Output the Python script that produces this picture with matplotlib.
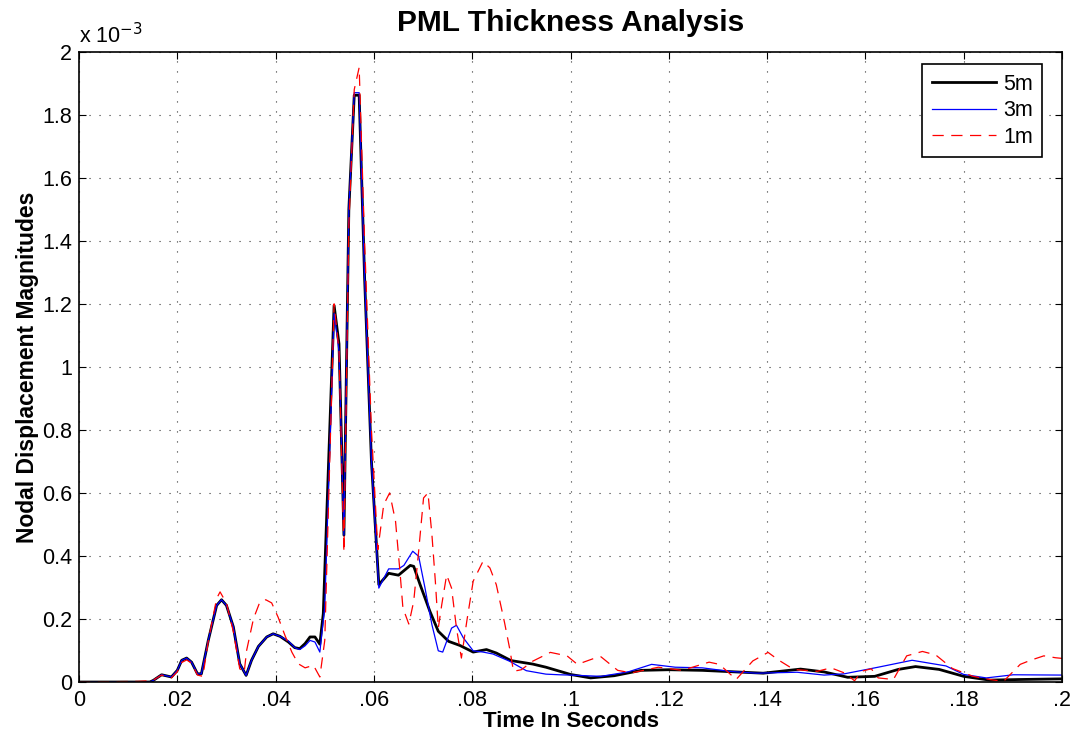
import numpy as np
import matplotlib
matplotlib.use('Agg')
import matplotlib.pyplot as plt

plt.rcParams['font.family'] = ['Liberation Sans', 'DejaVu Sans']

# time in seconds, displacement in units of 1e-3
t_5m = [0, 0.0144, 0.0151, 0.0168, 0.0188, 0.0200, 0.0209, 0.0219, 0.0229, 0.0241,
        0.0249, 0.0263, 0.0280, 0.0290, 0.0300, 0.0314, 0.0327, 0.0340, 0.0351, 0.0365,
        0.0382, 0.0395, 0.0409, 0.0426, 0.0439, 0.0449, 0.0460, 0.0470, 0.0480, 0.0490,
        0.0497, 0.0519, 0.0529, 0.0539, 0.0549, 0.0560, 0.0570, 0.0581, 0.0595, 0.0610,
        0.0630, 0.0650, 0.0674, 0.0681, 0.0694, 0.0714, 0.0731, 0.0752, 0.0775, 0.0802,
        0.0829, 0.0849, 0.0879, 0.0923, 0.0950, 0.1000, 0.1041, 0.1089, 0.1144, 0.1200,
        0.1268, 0.1351, 0.1392, 0.1468, 0.1516, 0.1564, 0.1619, 0.1667, 0.1702, 0.1750,
        0.1800, 0.1853, 0.1915, 0.2000]
d_5m = [0, 0, 0.005, 0.023, 0.016, 0.037, 0.069, 0.076, 0.063, 0.026,
        0.026, 0.132, 0.243, 0.261, 0.243, 0.175, 0.058, 0.021, 0.069, 0.113,
        0.143, 0.153, 0.145, 0.127, 0.109, 0.106, 0.122, 0.143, 0.143, 0.120,
        0.217, 1.195, 1.073, 0.466, 1.50, 1.862, 1.862, 1.285, 0.70, 0.309,
        0.345, 0.339, 0.370, 0.367, 0.309, 0.224, 0.161, 0.129, 0.116, 0.095,
        0.103, 0.092, 0.068, 0.057, 0.047, 0.024, 0.013, 0.020, 0.037, 0.039,
        0.037, 0.031, 0.028, 0.041, 0.032, 0.015, 0.018, 0.040, 0.049, 0.040,
        0.018, 0.006, 0.008, 0.010]

t_3m = [0, 0.0144, 0.0151, 0.0168, 0.0188, 0.0200, 0.0209, 0.0219, 0.0229, 0.0241,
        0.0249, 0.0263, 0.0280, 0.0290, 0.0300, 0.0314, 0.0327, 0.0340, 0.0351, 0.0365,
        0.0382, 0.0395, 0.0409, 0.0426, 0.0439, 0.0449, 0.0460, 0.0470, 0.0480, 0.0490,
        0.0500, 0.0519, 0.0529, 0.0539, 0.0549, 0.0560, 0.0570, 0.0581, 0.0595, 0.0610,
        0.0630, 0.0650, 0.0661, 0.0679, 0.0691, 0.0704, 0.0718, 0.0731, 0.0740, 0.0758,
        0.0768, 0.0782, 0.0802, 0.0822, 0.0842, 0.0876, 0.0910, 0.0950, 0.0977, 0.1000,
        0.1062, 0.1117, 0.1165, 0.1213, 0.1268, 0.1323, 0.1378, 0.1461, 0.1516, 0.1557,
        0.1626, 0.1695, 0.1764, 0.1800, 0.1846, 0.1901, 0.2000]
d_3m = [0, 0, 0.005, 0.023, 0.016, 0.037, 0.069, 0.076, 0.063, 0.026,
        0.026, 0.132, 0.243, 0.261, 0.243, 0.175, 0.058, 0.021, 0.069, 0.113,
        0.143, 0.153, 0.145, 0.130, 0.109, 0.103, 0.115, 0.132, 0.127, 0.095,
        0.238, 1.170, 1.050, 0.466, 1.50, 1.870, 1.870, 1.285, 0.70, 0.298,
        0.359, 0.359, 0.370, 0.415, 0.399, 0.298, 0.182, 0.099, 0.095, 0.171,
        0.180, 0.140, 0.099, 0.095, 0.089, 0.066, 0.036, 0.025, 0.023, 0.022,
        0.018, 0.032, 0.056, 0.047, 0.045, 0.034, 0.028, 0.031, 0.022, 0.026,
        0.047, 0.069, 0.051, 0.024, 0.013, 0.023, 0.022]

t_1m = [0, 0.0120, 0.0144, 0.0151, 0.0168, 0.0188, 0.0200, 0.0209, 0.0219, 0.0229,
        0.0241, 0.0252, 0.0263, 0.0280, 0.0287, 0.0300, 0.0314, 0.0327, 0.0336, 0.0341,
        0.0355, 0.0368, 0.0380, 0.0392, 0.0405, 0.0419, 0.0433, 0.0446, 0.0460, 0.0477,
        0.0490, 0.0500, 0.0519, 0.0529, 0.0539, 0.0549, 0.0560, 0.0570, 0.0581, 0.0595,
        0.0608, 0.0620, 0.0632, 0.0644, 0.0653, 0.0659, 0.0671, 0.0681, 0.0691, 0.0701,
        0.0710, 0.0718, 0.0725, 0.0731, 0.0738, 0.0748, 0.0758, 0.0768, 0.0778, 0.0789,
        0.0802, 0.0822, 0.0836, 0.0849, 0.0866, 0.0876, 0.0884, 0.0900, 0.0923, 0.0959,
        0.0993, 0.1014, 0.1048, 0.1062, 0.1096, 0.1124, 0.1179, 0.1227, 0.1282, 0.1303,
        0.1337, 0.1371, 0.1402, 0.1423, 0.1454, 0.1502, 0.1530, 0.1557, 0.1578, 0.1592,
        0.1612, 0.1626, 0.1657, 0.1684, 0.1716, 0.1743, 0.1777, 0.1819, 0.1853, 0.1881,
        0.1915, 0.1936, 0.1963, 0.1987, 0.2000]
d_1m = [0, 0.002, 0.004, 0.006, 0.022, 0.013, 0.033, 0.062, 0.070, 0.060,
        0.022, 0.018, 0.130, 0.265, 0.286, 0.250, 0.160, 0.042, 0.030, 0.100,
        0.201, 0.254, 0.261, 0.251, 0.206, 0.148, 0.095, 0.058, 0.045, 0.053,
        0.016, 0.132, 1.200, 1.050, 0.412, 1.45, 1.880, 1.950, 1.40, 0.80,
        0.420, 0.563, 0.600, 0.510, 0.351, 0.235, 0.184, 0.256, 0.415, 0.584,
        0.600, 0.468, 0.320, 0.171, 0.245, 0.340, 0.298, 0.171, 0.076, 0.193,
        0.320, 0.383, 0.362, 0.309, 0.187, 0.108, 0.034, 0.039, 0.066, 0.094,
        0.083, 0.056, 0.075, 0.080, 0.037, 0.029, 0.047, 0.037, 0.063, 0.056,
        0.008, 0.067, 0.094, 0.070, 0.040, 0.034, 0.045, 0.029, 0.004, 0.034,
        0.042, 0.013, 0.008, 0.083, 0.097, 0.086, 0.043, 0.018, 0.008, 0.002,
        0.056, 0.069, 0.083, 0.077, 0.075]

x_ticks = [0, 0.02, 0.04, 0.06, 0.08, 0.1, 0.12, 0.14, 0.16, 0.18, 0.2]
x_labels = ['0', '.02', '.04', '.06', '.08', '.1', '.12', '.14', '.16', '.18', '.2']
y_ticks = [0, 0.2, 0.4, 0.6, 0.8, 1.0, 1.2, 1.4, 1.6, 1.8, 2.0]
y_labels = ['0', '0.2', '0.4', '0.6', '0.8', '1', '1.2', '1.4', '1.6', '1.8', '2']

fig = plt.figure(figsize=(10.75, 7.41), dpi=100)
ax = fig.add_axes([0.0735, 0.0796, 0.9144, 0.8506])

ax.plot(t_5m, d_5m, color='black', linewidth=2.0, label='5m')
ax.plot(t_3m, d_3m, color='blue', linewidth=0.9, label='3m')
ax.plot(t_1m, d_1m, color='red', linewidth=0.9, dashes=(9, 6), label='1m')

ax.set_xlim(0, 0.2)
ax.set_ylim(0, 2)
ax.set_xticks(x_ticks)
ax.set_xticklabels(x_labels)
ax.set_yticks(y_ticks)
ax.set_yticklabels(y_labels)
ax.tick_params(direction='in', length=5, width=0.8, top=True, right=True,
               labelsize=15.5, pad=5)
ax.tick_params(axis='x', pad=6)

ax.grid(True, color='#333333', linestyle=(0, (1, 8)), linewidth=0.8)
for s in ax.spines.values():
    s.set_linewidth(1.2)

ax.text(0.0, 1.006, r'x 10$^{-3}$', transform=ax.transAxes, fontsize=15.5,
        ha='left', va='bottom')

ax.set_title('PML Thickness Analysis', fontsize=21.5, fontweight='bold', pad=15)
ax.set_xlabel('Time In Seconds', fontsize=16, fontweight='bold', labelpad=0)
ax.set_ylabel('Nodal Displacement Magnitudes', fontsize=16.5, fontweight='bold', labelpad=2)

leg = ax.legend(loc='upper right', bbox_to_anchor=(0.98, 0.98), borderaxespad=0,
                fontsize=15.5, handlelength=3.0, handletextpad=0.3, fancybox=False,
                framealpha=1, edgecolor='black', labelspacing=0.25, borderpad=0.45)
leg.get_frame().set_linewidth(1.2)

plt.savefig('out.png', dpi=100)
